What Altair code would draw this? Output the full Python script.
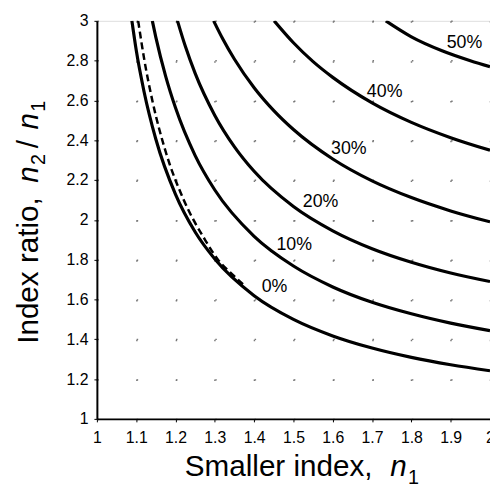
import altair as alt
import pandas as pd

# ---- data ----
x_ticks = [1.0, 1.1, 1.2, 1.3, 1.4, 1.5, 1.6, 1.7, 1.8, 1.9, 2.0]
y_ticks = [1.0, 1.2, 1.4, 1.6, 1.8, 2.0, 2.2, 2.4, 2.6, 2.8, 3.0]

n_0 = [1.089, 1.10, 1.12, 1.15, 1.20, 1.25, 1.30, 1.40, 1.50, 1.60, 1.70, 1.80, 1.90, 2.0]
r_0 = [3.0, 2.853, 2.644, 2.405, 2.128, 1.939, 1.803, 1.619, 1.500, 1.417, 1.356, 1.309, 1.272, 1.242]

n_10 = [1.141, 1.15, 1.175, 1.20, 1.25, 1.30, 1.40, 1.50, 1.60, 1.70, 1.80, 1.90, 2.0]
r_10 = [3.0, 2.917, 2.721, 2.563, 2.323, 2.150, 1.917, 1.768, 1.663, 1.586, 1.528, 1.481, 1.443]

n_20 = [1.205, 1.225, 1.25, 1.30, 1.35, 1.40, 1.50, 1.60, 1.70, 1.80, 1.90, 2.0]
r_20 = [3.0, 2.872, 2.736, 2.525, 2.367, 2.244, 2.067, 1.945, 1.855, 1.787, 1.733, 1.69]

n_30 = [1.297, 1.32, 1.35, 1.40, 1.45, 1.50, 1.60, 1.70, 1.80, 1.90, 2.0]
r_30 = [3.0, 2.910, 2.807, 2.664, 2.549, 2.454, 2.306, 2.196, 2.112, 2.045, 1.99]

n_40 = [1.451, 1.50, 1.55, 1.60, 1.70, 1.80, 1.90, 2.0]
r_40 = [3.0, 2.89, 2.795, 2.716, 2.588, 2.49, 2.413, 2.35]

n_50 = [1.735, 1.80, 1.878, 1.95, 2.0]
r_50 = [3.0, 2.92, 2.85, 2.80, 2.77]

n_dash = [1.105, 1.121, 1.141, 1.176, 1.221, 1.275, 1.308, 1.348, 1.375]
r_dash = [3.0, 2.80, 2.60, 2.336, 2.10, 1.90, 1.80, 1.72, 1.67]

label_text = ["0%", "10%", "20%", "30%", "40%", "50%"]
label_n = [1.452, 1.502, 1.569, 1.641, 1.732, 1.935]
label_r = [1.66, 1.873, 2.088, 2.355, 2.643, 2.89]

# ---- build tables ----
curves = [("0%", n_0, r_0), ("10%", n_10, r_10), ("20%", n_20, r_20),
          ("30%", n_30, r_30), ("40%", n_40, r_40), ("50%", n_50, r_50)]
rows = []
for name, ns, rs in curves:
    for i, (a, b) in enumerate(zip(ns, rs)):
        rows.append({"curve": name, "n1": a, "ratio": b, "order": i})
solid_df = pd.DataFrame(rows)
dash_df = pd.DataFrame({"n1": n_dash, "ratio": r_dash, "order": list(range(len(n_dash)))})
lab_df = pd.DataFrame({"label": label_text, "n1": label_n, "ratio": label_r})

FONT = "Liberation Sans"

xscale = alt.Scale(domain=[1, 2], nice=False, zero=False)
yscale = alt.Scale(domain=[1, 3], nice=False, zero=False)

xaxis = alt.Axis(values=x_ticks, format=".1~f", title="", grid=True,
                 gridColor="#777", gridDash=[1.5, 38.8], gridWidth=1.5,
                 domainColor="black", domainWidth=2, tickColor="black",
                 tickSize=3, labelPadding=8, labelFont=FONT, labelFontSize=16,
                 labelColor="black", labelFlush=False, labelOverlap=False)
yaxis = alt.Axis(values=y_ticks, format=".1~f", title="", grid=True,
                 gridColor="#777", gridDash=[1.5, 38.3], gridWidth=1.5,
                 domainColor="black", domainWidth=2, tickColor="black",
                 tickSize=3, labelPadding=6, labelFont=FONT, labelFontSize=16,
                 labelColor="black", labelFlush=False, labelOverlap=False)

X = alt.X("n1:Q", scale=xscale, axis=xaxis)
Y = alt.Y("ratio:Q", scale=yscale, axis=yaxis)

solid = alt.Chart(solid_df).mark_line(
    interpolate="monotone", color="black", strokeWidth=3.2, clip=True
).encode(x=X, y=Y, detail="curve:N", order="order:Q")

dashed = alt.Chart(dash_df).mark_line(
    interpolate="monotone", color="black", strokeWidth=2.5, strokeDash=[7, 4], clip=True
).encode(x=X, y=Y, order="order:Q")

labels = alt.Chart(lab_df).mark_text(
    font=FONT, fontSize=18, color="black", align="center", baseline="middle"
).encode(x=X, y=Y, text="label:N")

one = pd.DataFrame({"k": [0]})


def piece(txt, x, y, size=30, style="normal", angle=0):
    kw = dict(font=FONT, fontSize=size, color="black", align="left",
              baseline="alphabetic", fontStyle=style)
    if angle:
        kw["angle"] = angle
    return alt.Chart(one).mark_text(**kw).encode(
        x=alt.value(x), y=alt.value(y), text=alt.value(txt))


title_layers = [
    piece("Smaller index,", 89, 461),
    piece("n", 297, 461, style="italic"),
    piece("1", 315, 469, size=20),
    piece("Index ratio,", -60, 327, angle=270),
    piece("n", -60, 164, style="italic", angle=270),
    piece("2", -53, 146, size=20, angle=270),
    piece("/", -60, 129, angle=270),
    piece("n", -60, 110, style="italic", angle=270),
    piece("1", -53, 92, size=20, angle=270),
]

chart = alt.layer(solid, dashed, labels, *title_layers).properties(
    width=398, height=403,
    autosize=alt.AutoSizeParams(type="none"),
    padding={"left": 90, "top": 10, "right": 0, "bottom": 70},
).configure_view(
    stroke="black", strokeWidth=1.5
).configure(background="white")

chart.save("out.html", embed_options={"renderer": "svg", "actions": False})
